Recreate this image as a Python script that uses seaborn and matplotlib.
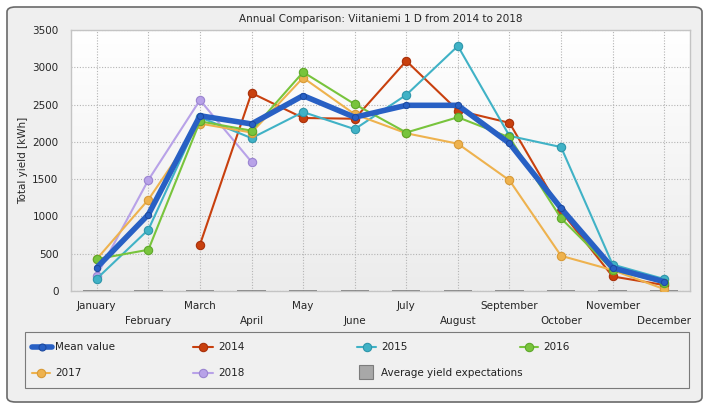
import numpy as np
import pandas as pd
import matplotlib
matplotlib.use("Agg")
import matplotlib.pyplot as plt
import seaborn as sns
from matplotlib.patches import FancyBboxPatch, Rectangle
from matplotlib.lines import Line2D

months = ["January", "February", "March", "April", "May", "June", "July",
          "August", "September", "October", "November", "December"]
mean_value = [314, 1025, 2350, 2240, 2620, 2330, 2490, 2490, 1980, 1110, 310, 125]
y2014 = [np.nan, np.nan, 621, 2655, 2320, 2310, 3085, 2420, 2255, 1070, 195, 80]
y2015 = [165, 823, 2330, 2050, 2400, 2170, 2630, 3285, 2080, 1930, 355, 160]
y2016 = [428, 553, 2275, 2150, 2935, 2505, 2125, 2330, 2060, 975, 285, 110]
y2017 = [430, 1225, 2245, 2125, 2860, 2370, 2115, 1975, 1484, 472, 280, 25]
y2018 = [206, 1489, 2560, 1731, np.nan, np.nan, np.nan, np.nan, np.nan, np.nan, np.nan, np.nan]
avg_expect = [0] * 12

colors = {"Mean value": "#2860c4", "2014": "#c8400e", "2015": "#40b2c6",
          "2016": "#78c43c", "2017": "#eeb24e", "2018": "#b8a2e8"}
edges = {"Mean value": "#1d4aa0", "2014": "#a8300a", "2015": "#2e96aa",
         "2016": "#5ea82a", "2017": "#d89a36", "2018": "#9a84d0"}

sns.set_style("white")
plt.rcParams["font.family"] = ["DejaVu Sans"]
FS = 7.5

W, H = 710, 409
fig = plt.figure(figsize=(7.1, 4.09), dpi=100)
fig.patch.set_facecolor("white")

def fx(px):
    return px / W

def fy(py):
    return 1 - py / H

panel = FancyBboxPatch((fx(7), fy(402)), 695 / W, 395 / H,
                       boxstyle="round,pad=0,rounding_size=0.012",
                       transform=fig.transFigure, facecolor="#efefef",
                       edgecolor="#6a6a6a", linewidth=1.2, zorder=-10)
fig.add_artist(panel)

ax = fig.add_axes([fx(71), fy(291), (690 - 71) / W, (291 - 30) / H])
ax.set_zorder(1)
grad = np.linspace(1.0, 0.0, 256).reshape(-1, 1)
ax.imshow(grad, extent=[0, 1, 0, 1], transform=ax.transAxes, aspect="auto",
          cmap=matplotlib.colors.LinearSegmentedColormap.from_list("g", ["#ececec", "#ffffff"]),
          zorder=0)

x = np.arange(12)
ax.bar(x, avg_expect, width=0.55, color="#9a9a9a", edgecolor="#707070", linewidth=1.2, zorder=2)

frames = []
for name, vals in [("2014", y2014), ("2015", y2015), ("2016", y2016),
                   ("2017", y2017), ("2018", y2018)]:
    frames.append(pd.DataFrame({"x": x, "v": vals, "series": name}))
df = pd.concat(frames).dropna()
for name in ["2018", "2014", "2015", "2017", "2016"]:
    sub = df[df.series == name]
    sns.lineplot(data=sub, x="x", y="v", ax=ax, color=colors[name], linewidth=1.5,
                 marker="o", markersize=6, markeredgecolor=edges[name],
                 markeredgewidth=0.8, legend=False, zorder=3, sort=False)
mdf = pd.DataFrame({"x": x, "v": mean_value})
sns.lineplot(data=mdf, x="x", y="v", ax=ax, color=colors["Mean value"], linewidth=4,
             marker="o", markersize=4.5, markeredgecolor=edges["Mean value"],
             legend=False, zorder=4)

ax.set_xlim(-0.5, 11.5)
ax.set_ylim(0, 3500)
ax.set_yticks(np.arange(0, 3501, 500))
ax.set_xticks(x[0::2])
ax.set_xticklabels(months[0::2], fontsize=FS)
ax.set_xticks(x[1::2], minor=True)
ax.set_xticklabels(months[1::2], minor=True, fontsize=FS)
ax.tick_params(axis="y", labelsize=FS, length=0, pad=9)
ax.tick_params(axis="x", which="major", length=0, pad=7)
ax.tick_params(axis="x", which="minor", length=0, pad=18)
ax.grid(True, which="both", color="#b4b4b4", linestyle=(0, (1, 1.5)), linewidth=0.8)
ax.set_axisbelow(True)
for s in ax.spines.values():
    s.set_color("#c4c4c4")
    s.set_linewidth(1)
ax.set_xlabel("")
ax.set_ylabel("Total yield [kWh]", fontsize=FS, labelpad=3)
ax.set_title("Annual Comparison: Viitaniemi 1 D from 2014 to 2018", fontsize=FS, pad=6)

# legend box (manual layout to match column positions)
fig.add_artist(Rectangle((fx(25), fy(388)), (689 - 25) / W, (388 - 332) / H,
                         transform=fig.transFigure, facecolor="#f0f0f0",
                         edgecolor="#7a7a7a", linewidth=0.8, zorder=0))

def line_handle(name, x0, x1, yp, lw=1.5, ms=6):
    fig.add_artist(Line2D([fx(x0), fx(x1)], [fy(yp), fy(yp)], transform=fig.transFigure,
                          color=colors[name], lw=lw, zorder=2))
    fig.add_artist(Line2D([fx((x0 + x1) / 2)], [fy(yp)], transform=fig.transFigure,
                          color=colors[name], marker="o", markersize=ms, lw=0,
                          markeredgecolor=edges[name], markeredgewidth=0.8, zorder=3))

entries = [("Mean value", 32, 52, 55, 347, 4, 5),
           ("2014", 193, 213, 218, 347, 1.5, 6),
           ("2015", 357, 376, 381, 347, 1.5, 6),
           ("2016", 520, 538, 543, 347, 1.5, 6),
           ("2017", 32, 50, 55, 373, 1.5, 6),
           ("2018", 193, 213, 218, 373, 1.5, 6)]
for name, x0, x1, tx, yp, lw, ms in entries:
    line_handle(name, x0, x1, yp, lw, ms)
    fig.text(fx(tx), fy(yp), name, fontsize=FS, va="center", ha="left", color="#222222")
fig.add_artist(Rectangle((fx(359), fy(379)), 14 / W, 14 / H, transform=fig.transFigure,
                         facecolor="#a8a8a8", edgecolor="#7c7c7c", linewidth=0.8, zorder=2))
fig.text(fx(381), fy(373), "Average yield expectations", fontsize=FS, va="center",
         ha="left", color="#222222")

fig.savefig("out.png", dpi=100)
